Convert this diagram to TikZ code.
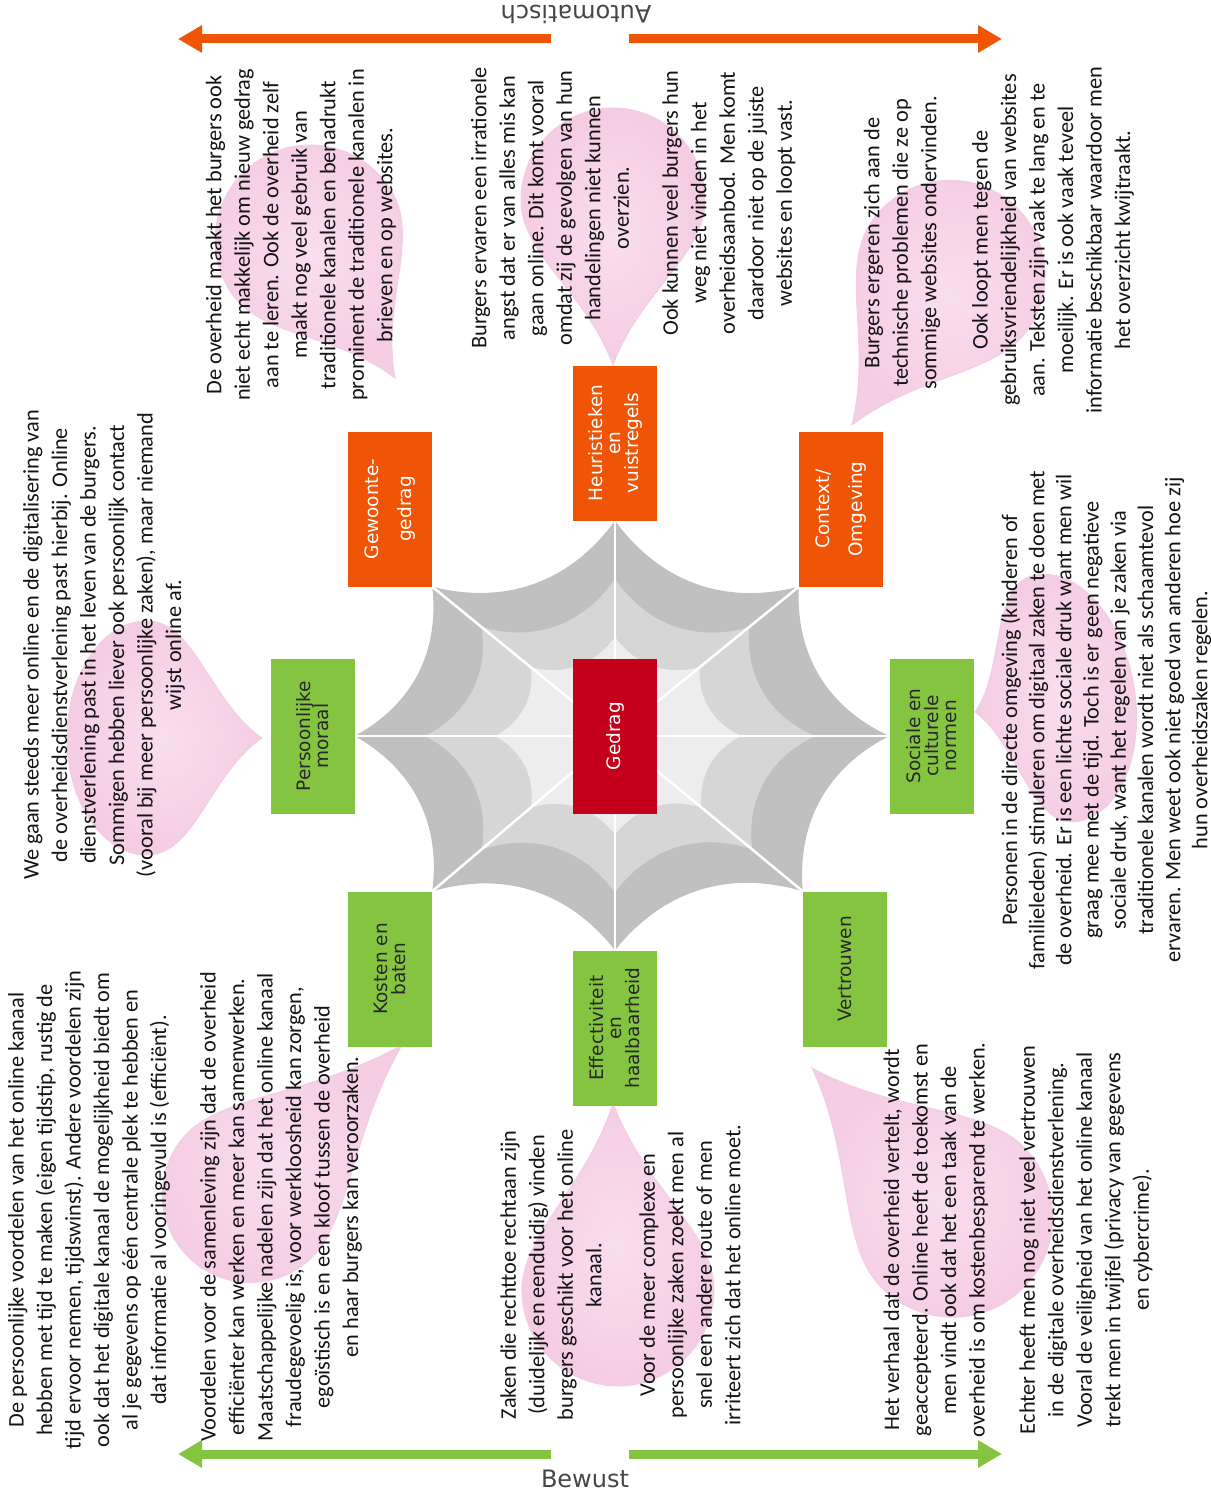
\documentclass[tikz,border=0pt]{standalone}
\usepackage{fontspec}
\setmainfont{Carlito}
\newfontfamily\boxfont{DejaVu Sans}
\usetikzlibrary{calc,arrows.meta}
\pgfdeclarelayer{bg}
\pgfsetlayers{bg,main}
\definecolor{orng}{RGB}{240,84,6}
\definecolor{grn}{RGB}{132,196,65}
\definecolor{rd}{RGB}{196,0,26}
\definecolor{gdark}{RGB}{192,192,192}
\definecolor{gmid}{RGB}{214,214,214}
\definecolor{glight}{RGB}{237,237,237}
\definecolor{dropin}{RGB}{250,222,238}
\definecolor{dropout}{RGB}{244,204,228}
\definecolor{dropedge}{RGB}{242,206,230}
\definecolor{labgray}{RGB}{70,70,70}
\definecolor{boxtext}{RGB}{40,40,40}
\definecolor{bodytext}{RGB}{20,20,20}
\newcommand{\dropshape}[6]{%
  \begin{scope}[shift={(#1,#2)}, rotate=#3]
    \shade[dropstyle] (0,0) .. controls ({0.45*#4},{0.3*#6}) and ({#4-0.6*#5},{#6}) .. (#4,#6)
      .. controls ({#4+0.552*#5},{#6}) and ({#4+#5},{0.552*#6}) .. ({#4+#5},0)
      .. controls ({#4+#5},{-0.552*#6}) and ({#4+0.552*#5},{-#6}) .. (#4,{-#6})
      .. controls ({#4-0.6*#5},{-#6}) and ({0.45*#4},{-0.3*#6}) .. (0,0) -- cycle;
  \end{scope}}
\begin{document}
\begin{tikzpicture}[x=1pt,y=-1pt,
  box/.style={rotate=90, minimum width=155pt, minimum height=84pt, inner sep=0pt, align=center},
  tight/.style={font=\boxfont\fontsize{18.5}{18}\selectfont},
  loose/.style={font=\boxfont\fontsize{18.5}{33}\selectfont},
  obox/.style={box, fill=orng, text=white},
  gbox/.style={box, fill=grn, text=boxtext},
  rbox/.style={box, fill=rd, text=white},
  body/.style={rotate=90, align=center, inner sep=0pt, text=bodytext, font=\fontsize{22.3}{28.5}\selectfont},
  bodyb/.style={body, font=\fontsize{22.3}{27.2}\selectfont},
  axislabel/.style={font=\boxfont\fontsize{24}{24}\selectfont, text=labgray, inner sep=0pt},
  arrO/.style={draw=orng, line width=9pt, -{Triangle[width=26pt,length=24pt]}},
  arrG/.style={draw=grn, line width=9pt, -{Triangle[width=26pt,length=24pt]}},
  dropstyle/.style={inner color=dropin, outer color=dropout, draw=dropedge, line width=1pt},
  spoke/.style={draw=white, line width=2.5pt}]
\useasboundingbox (0,0) rectangle (1210,1493);

% boxes
\node[obox, loose] (gw) at (390,509) {Gewoonte-\\gedrag};
\node[obox, tight] (hv) at (615,443) {Heuristieken\\en\\vuistregels};
\node[obox, loose] (co) at (841,509) {Context/\\Omgeving};
\node[gbox, tight] (pm) at (312.5,736) {Persoonlijke\\moraal};
\node[rbox, loose] (gd) at (615,736) {Gedrag};
\node[gbox, tight] (sc) at (931.5,736) {Sociale en\\culturele\\normen};
\node[gbox, tight] (kb) at (390,969) {Kosten en\\baten};
\node[gbox, tight] (eh) at (615,1028) {Effectiviteit\\en\\haalbaarheid};
\node[gbox, loose] (vt) at (845,969) {Vertrouwen};

\coordinate (w1) at (pm.south);
\coordinate (w2) at (gw.south west);
\coordinate (w3) at (hv.west);
\coordinate (w4) at (co.north west);
\coordinate (w5) at (sc.north);
\coordinate (w6) at (vt.north east);
\coordinate (w7) at (eh.east);
\coordinate (w8) at (kb.south east);

\begin{pgfonlayer}{bg}
  % pink drops
  \dropshape{262}{738}{180}{115}{80}{117}
  \dropshape{395}{378}{121.6}{162}{95}{95}
  \dropshape{613}{365}{90}{165}{92}{92}
  \dropshape{852}{425}{56.8}{179}{95}{95}
  \dropshape{975}{712}{9.6}{83}{78}{125}
  \dropshape{812}{1068}{-46.7}{205}{100}{100}
  \dropshape{613}{1103}{-88.5}{187}{96}{96}
  \dropshape{402}{1045}{-135.4}{213}{88}{88}
  % web
  \foreach \f/\b/\c in {1/34/gdark, 0.73/36/gmid, 0.46/34/glight} {
    \fill[\c] ($(gd.center)!\f!(w1)$) to[bend right=\b] ($(gd.center)!\f!(w2)$)
      to[bend right=\b] ($(gd.center)!\f!(w3)$) to[bend right=\b] ($(gd.center)!\f!(w4)$)
      to[bend right=\b] ($(gd.center)!\f!(w5)$) to[bend right=\b] ($(gd.center)!\f!(w6)$)
      to[bend right=\b] ($(gd.center)!\f!(w7)$) to[bend right=\b] ($(gd.center)!\f!(w8)$)
      to[bend right=\b] ($(gd.center)!\f!(w1)$) -- cycle;
  }
  \foreach \i in {1,...,8} \draw[spoke] (gd.center) -- (w\i);
\end{pgfonlayer}

% axis arrows
\coordinate (tl0) at (551,39); \coordinate (tl1) at (178,39);
\coordinate (tr0) at (629,39); \coordinate (tr1) at (1002,39);
\coordinate (bl0) at (551,1454); \coordinate (bl1) at (178,1454);
\coordinate (br0) at (629,1454); \coordinate (br1) at (1002,1454);
\draw[arrO] (tl0) -- (tl1);
\draw[arrO] (tr0) -- (tr1);
\draw[arrG] (bl0) -- (bl1);
\draw[arrG] (br0) -- (br1);
\node[axislabel, rotate=180] (auto) at (576,14) {Automatisch};
\node[axislabel] (bew) at (585,1479) {Bewust};

% texts
\node[body] (t1) at (104,645) {We gaan steeds meer online en de digitalisering van\\de overheidsdienstverlening past hierbij. Online\\dienstverlening past in het leven van de burgers.\\Sommigen hebben liever ook persoonlijk contact\\(vooral bij meer persoonlijke zaken), maar niemand\\wijst online af.};
\node[body] (t2) at (301,235) {De overheid maakt het burgers ook\\niet echt makkelijk om nieuw gedrag\\aan te leren. Ook de overheid zelf\\maakt nog veel gebruik van\\traditionele kanalen en benadrukt\\prominent de traditionele kanalen in\\brieven en op websites.};
\node[body] (t3a) at (550,208) {Burgers ervaren een irrationele\\angst dat er van alles mis kan\\gaan online. Dit komt vooral\\omdat zij de gevolgen van hun\\handelingen niet kunnen\\overzien.};
\node[body] (t3b) at (729,203) {Ook kunnen veel burgers hun\\weg niet vinden in het\\overheidsaanbod. Men komt\\daardoor niet op de juiste\\websites en loopt vast.};
\node[body] (t4a) at (902,243) {Burgers ergeren  zich aan de\\technische problemen die ze op\\sommige websites ondervinden.};
\node[body] (t4b) at (1053,240) {Ook loopt men tegen de\\gebruiksvriendelijkheid van websites\\aan. Teksten zijn vaak te lang en te\\moeilijk. Er is ook vaak teveel\\informatie beschikbaar waardoor men\\het overzicht kwijtraakt.};
\node[bodyb] (t5) at (1106,720) {Personen in de directe omgeving (kinderen of\\familieleden) stimuleren om digitaal zaken te doen met\\de overheid. Er is een lichte sociale druk want men wil\\graag mee met de tijd. Toch is er geen negatieve\\sociale druk, want het regelen van je zaken via\\traditionele kanalen wordt niet als schaamtevol\\ervaren. Men weet ook niet goed van anderen hoe zij\\hun overheidszaken regelen.};
\node[body] (t6a) at (936,1240) {Het verhaal dat de overheid vertelt,  wordt\\geaccepteerd. Online heeft de toekomst en\\men vindt ook dat het een taak van de\\overheid is om kostenbesparend te werken.};
\node[body] (t6b) at (1086,1240) {Echter heeft men nog niet veel vertrouwen\\in de digitale overheidsdienstverlening.\\Vooral de veiligheid van het online kanaal\\trekt men in twijfel (privacy van gegevens\\en cybercrime).};
\node[body] (t7a) at (551,1275) {Zaken  die rechttoe rechtaan  zijn\\(duidelijk en  eenduidig) vinden\\burgers geschikt voor het online\\kanaal.};
\node[body] (t7b) at (690,1275) {Voor de meer complexe en\\persoonlijke zaken zoekt men al\\snel een andere route of men\\irriteert zich dat het online moet.};
\node[body] (t8a) at (89,1210) {De persoonlijke voordelen van het online kanaal\\hebben met tijd te maken  (eigen tijdstip, rustig de\\tijd ervoor nemen,  tijdswinst). Andere voordelen zijn\\ook dat het digitale kanaal de mogelijkheid biedt om\\al je gegevens op één centrale plek te hebben en\\dat informatie al vooringevuld is (efficiënt).};
\node[body] (t8b) at (281,1207) {Voordelen voor de samenleving zijn dat de overheid\\efficiënter kan werken en meer kan samenwerken.\\Maatschappelijke nadelen zijn dat het online kanaal\\fraudegevoelig is,  voor werkloosheid kan zorgen,\\egoïstisch is en een kloof tussen de overheid\\en haar burgers kan veroorzaken.};
\end{tikzpicture}
\end{document}
